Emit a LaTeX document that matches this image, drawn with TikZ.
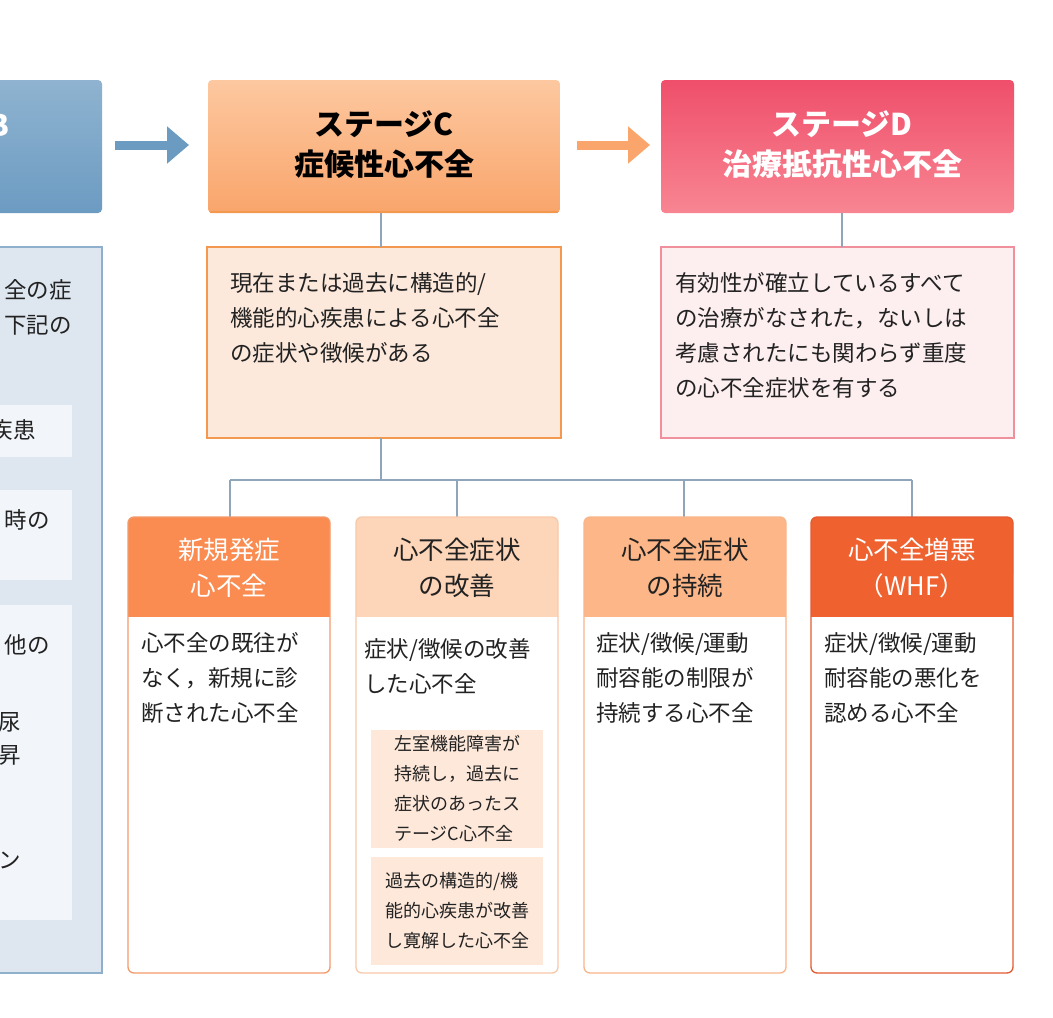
\documentclass[tikz,border=0pt]{standalone}
\usepackage{fontspec}
\setmainfont{Noto Sans CJK JP}
\usetikzlibrary{positioning,arrows.meta}
\definecolor{bluehA}{HTML}{8FB3D0}\definecolor{bluehB}{HTML}{6C9BC2}
\definecolor{bluebody}{HTML}{DEE6EF}\definecolor{blueline}{HTML}{8EB0CD}
\definecolor{orA}{HTML}{FDC8A0}\definecolor{orB}{HTML}{F9A56B}\definecolor{orline}{HTML}{F3984F}
\definecolor{rdA}{HTML}{EF4F6B}\definecolor{rdB}{HTML}{F88592}\definecolor{rdline}{HTML}{F0909C}
\definecolor{cbody}{HTML}{FDE9DC}\definecolor{dbody}{HTML}{FDEEF0}
\definecolor{h1}{HTML}{FA8C52}\definecolor{h2}{HTML}{FDD5B8}\definecolor{h3}{HTML}{FCB687}\definecolor{h4}{HTML}{EF6230}
\definecolor{b1}{HTML}{F39A6A}\definecolor{b2}{HTML}{F8C9A8}\definecolor{b3}{HTML}{F9B58A}\definecolor{b4}{HTML}{E35A30}
\definecolor{inner}{HTML}{FDE8DA}\definecolor{tree}{HTML}{8FA6BA}\definecolor{txt}{HTML}{222222}
\tikzset{
 body/.style={font=\fontsize{22.5}{35}\selectfont, text=txt, align=left, anchor=north west, inner sep=0},
 small/.style={font=\fontsize{18}{30}\selectfont, text=txt, align=left, inner sep=0},
 htitle/.style={font=\fontsize{25.5}{36}\selectfont, align=center, inner sep=0},
 big/.style={font=\fontsize{30}{40}\selectfont\bfseries, align=center, inner sep=0},
 conn/.style={draw=tree, line width=1.2pt},
 arr/.style={line width=9pt, -{Triangle[length=22pt,width=36pt]}}
}
\begin{document}
\begin{tikzpicture}[x=1pt,y=-1pt]
\useasboundingbox (0,0) rectangle (1053,1018);
\fill[white] (0,0) rectangle (1053,1018);
% left partial stage B
\shade[top color=bluehA, bottom color=bluehB, rounded corners=4pt] (-40,80) rectangle (102,213);
\node[big, text=white, anchor=east] at (10,125) {B};
\filldraw[fill=bluebody, draw=blueline, line width=1.2pt] (-40,247) rectangle (102,973);
\fill[white!60!bluebody] (-40,405) rectangle (72,457);
\fill[white!60!bluebody] (-40,490) rectangle (72,580);
\fill[white!60!bluebody] (-40,605) rectangle (72,920);
\node[body, anchor=east] at (72,290) {全の症};
\node[body, anchor=east] at (72,325) {下記の};
\node[body, anchor=east] at (36,430) {疾患};
\node[body, anchor=east] at (50,520) {時の};
\node[body, anchor=east] at (50,645) {他の};
\node[body, anchor=west] at (-2,722) {尿};
\node[body, anchor=west] at (-2,755) {昇};
\node[body, anchor=west] at (-2,860) {ン};
% arrows
\draw[arr, color=bluehB] (115,145) -- (189,145);
\draw[arr, color=orB] (577,145) -- (650,145);
% stage C
\shade[top color=orA, bottom color=orB, rounded corners=4pt] (208,80) rectangle (560,213);
\draw[orline, line width=2pt] (210,212) -- (558,212);
\node[big, text=black] (hc) at (384,145) {ステージC\\症候性心不全};
\filldraw[fill=cbody, draw=orline, line width=1.2pt] (207,247) rectangle (561,438);
\node[body] (tc) at (230,272) {現在または過去に構造的/\\機能的心疾患による心不全\\の症状や徴候がある};
% stage D
\shade[top color=rdA, bottom color=rdB, rounded corners=4pt] (661,80) rectangle (1014,213);
\node[big, text=white] (hd) at (842,145) {ステージD\\治療抵抗性心不全};
\filldraw[fill=dbody, draw=rdline, line width=1.2pt] (661,247) rectangle (1014,438);
\node[body] (td) at (675,272) {有効性が確立しているすべて\\の治療がなされた，ないしは\\考慮されたにも関わらず重度\\の心不全症状を有する};
% connectors
\coordinate (ct) at (381,213); \coordinate (cb) at (381,247);
\coordinate (dt) at (842,213); \coordinate (db) at (842,247);
\draw[conn] (ct) -- (cb); \draw[conn] (dt) -- (db);
\coordinate (c0) at (381,438); \coordinate (c1) at (381,480);
\draw[conn] (c0) -- (c1);
\draw[conn] (230,480) -- (912,480);
\foreach \x in {230,457,684,912} \draw[conn] (\x,480) -- (\x,517);
% columns
\foreach \xa/\xb/\hc/\bc in {128/330/h1/b1, 356/558/h2/b2, 584/786/h3/b3, 811/1013/h4/b4}{
  \fill[white, rounded corners=6pt] (\xa,517) rectangle (\xb,973);
  \fill[\hc, rounded corners=6pt] (\xa,517) rectangle (\xb,580);
  \fill[\hc] (\xa,560) rectangle (\xb,617);
  \draw[\bc, line width=1.3pt, rounded corners=6pt] (\xa,517) rectangle (\xb,973);
}
\node[htitle, text=white] (n1) at (229,568) {新規発症\\心不全};
\node[htitle, text=txt] (n2) at (457,568) {心不全症状\\の改善};
\node[htitle, text=txt] (n3) at (685,568) {心不全症状\\の持続};
\node[htitle, text=white] (n4) at (912,568) {心不全増悪\\（WHF）};
\node[body] (t1) at (141,632) {心不全の既往が\\なく，新規に診\\断された心不全};
\node[body] (t2) at (364,638) {症状/徴候の改善\\した心不全};
\node[body] (t3) at (596,632) {症状/徴候/運動\\耐容能の制限が\\持続する心不全};
\node[body] (t4) at (824,632) {症状/徴候/運動\\耐容能の悪化を\\認める心不全};
\fill[inner] (371,730) rectangle (543,848);
\fill[inner] (371,857) rectangle (543,965);
\node[small] (i1) at (457,789) {左室機能障害が\\持続し，過去に\\症状のあったス\\テージC心不全};
\node[small] (i2) at (457,911) {過去の構造的/機\\能的心疾患が改善\\し寛解した心不全};
\end{tikzpicture}
\end{document}
